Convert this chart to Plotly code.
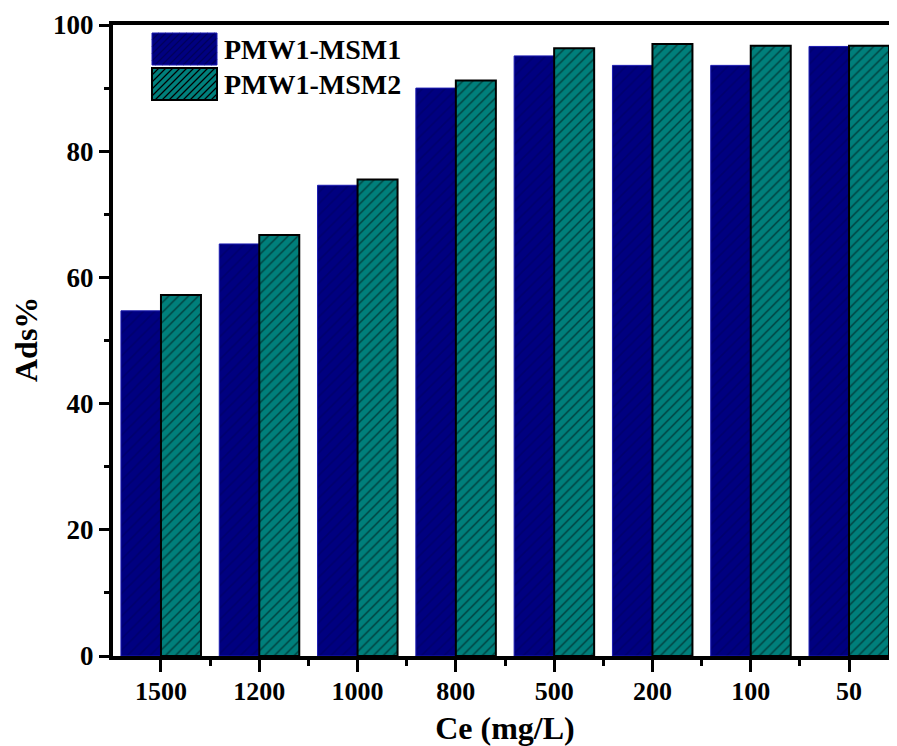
import plotly.graph_objects as go

categories = ["1500", "1200", "1000", "800", "500", "200", "100", "50"]
msm1 = [54.7, 65.3, 74.6, 90.0, 95.1, 93.6, 93.6, 96.6]
msm2 = [57.2, 66.7, 75.5, 91.2, 96.3, 97.0, 96.7, 96.7]
series_names = ["PMW1-MSM1", "PMW1-MSM2"]
y_ticks = [0, 20, 40, 60, 80, 100]
x_title = "Ce (mg/L)"
y_title = "Ads%"

FONT = "Liberation Serif"
OFF = 8  # page body margin
W, H = 897 - OFF, 746 - OFF
L, R, T = 113 - OFF, 0, 25 - OFF
PBOT = 656 - OFF
B = H - PBOT
PW, PH = W - L - R, PBOT - T

BLUE = "#000080"
BLUE_HATCH = "#00005C"
TEAL = "#007F7B"

xpos = list(range(len(categories)))

fig = go.Figure()
fig.add_trace(go.Bar(
    x=xpos, y=msm1, name=series_names[0], showlegend=False,
    marker=dict(color=BLUE, line=dict(color="#1A1AB0", width=1),
                pattern=dict(shape="/", fgcolor=BLUE_HATCH, bgcolor=BLUE,
                             size=8, solidity=0.2)),
))
fig.add_trace(go.Bar(
    x=xpos, y=msm2, name=series_names[1], showlegend=False,
    marker=dict(color=TEAL, line=dict(color="black", width=2),
                pattern=dict(shape="/", fgcolor="black", bgcolor=TEAL,
                             size=7, solidity=0.2)),
))


def px2p(x, y):
    # x, y are page pixel coords of the reference
    x -= OFF
    y -= OFF
    return (x - L) / PW, (PBOT - y) / PH


def hatch_path(x0, y0, x1, y1, s):
    h = y1 - y0
    segs = []
    c = x0 - h + s
    while c < x1:
        sx, sy = c, y1
        if sx < x0:
            sy = y1 - (x0 - c)
            sx = x0
        ex, ey = c + h, y0
        if ex > x1:
            ey = y1 - (x1 - c)
            ex = x1
        a = px2p(sx, sy)
        b = px2p(ex, ey)
        segs.append(f"M{a[0]:.5f},{a[1]:.5f} L{b[0]:.5f},{b[1]:.5f}")
        c += s
    return " ".join(segs)


shapes = []
sw = [(152, 33, 217, 65), (152, 68, 217, 100)]
styles = [(BLUE, BLUE_HATCH, "#1A1AB0", 1), (TEAL, "black", "black", 2)]
for (x0, y0, x1, y1), (fc, hc, lc, lw) in zip(sw, styles):
    p0 = px2p(x0, y1)
    p1 = px2p(x1, y0)
    shapes.append(dict(type="rect", xref="paper", yref="paper",
                       x0=p0[0], y0=p0[1], x1=p1[0], y1=p1[1],
                       fillcolor=fc, line=dict(width=0), layer="above"))
    shapes.append(dict(type="path", xref="paper", yref="paper",
                       path=hatch_path(x0, y0, x1, y1, 7),
                       line=dict(color=hc, width=1.2), layer="above"))
    shapes.append(dict(type="rect", xref="paper", yref="paper",
                       x0=p0[0], y0=p0[1], x1=p1[0], y1=p1[1],
                       fillcolor="rgba(0,0,0,0)", line=dict(color=lc, width=lw),
                       layer="above"))

annotations = []
for (x0, y0, x1, y1), name in zip(sw, series_names):
    p = px2p(222, (y0 + y1) / 2)
    annotations.append(dict(xref="paper", yref="paper", x=p[0], y=p[1],
                            text=name, showarrow=False, xanchor="left",
                            yanchor="middle",
                            font=dict(family=FONT, size=28, color="black",
                                      weight="bold")))

# y-axis title as rotated annotation
pt = px2p(26, 340)
annotations.append(dict(xref="paper", yref="paper", x=pt[0], y=pt[1],
                        text=y_title, showarrow=False, textangle=-90,
                        xanchor="center", yanchor="middle",
                        font=dict(family=FONT, size=32, color="black",
                                  weight="bold")))

fig.update_layout(
    width=W, height=H,
    margin=dict(l=L, r=R, t=T, b=B),
    paper_bgcolor="white", plot_bgcolor="white",
    barmode="group", bargap=0.186, bargroupgap=0,
    font=dict(family=FONT, color="black", weight="bold"),
    shapes=shapes, annotations=annotations,
    showlegend=False,
)
fig.update_xaxes(
    range=[-0.488, 7.488],
    tickmode="array", tickvals=xpos, ticktext=categories,
    ticks="outside", ticklen=12, tickwidth=3, tickcolor="black",
    ticklabelstandoff=-3,
    minor=dict(tickmode="array", tickvals=[i + 0.5 for i in xpos],
               ticks="outside", ticklen=6, tickwidth=3, tickcolor="black"),
    showline=True, linewidth=4, linecolor="black", mirror=True,
    showgrid=False, zeroline=False,
    tickfont=dict(family=FONT, size=26, color="black", weight="bold"),
    title=dict(text=x_title, standoff=12,
               font=dict(family=FONT, size=32, color="black", weight="bold")),
)
fig.update_yaxes(
    range=[0, 100],
    tickmode="array", tickvals=y_ticks,
    ticks="outside", ticklen=10, tickwidth=3, tickcolor="black",
    minor=dict(tickmode="array", tickvals=[10, 30, 50, 70, 90],
               ticks="outside", ticklen=5, tickwidth=3, tickcolor="black"),
    showline=True, linewidth=4, linecolor="black", mirror=False,
    showgrid=False, zeroline=False,
    tickfont=dict(family=FONT, size=27, color="black", weight="bold"),
)

fig.write_html("out.html")
